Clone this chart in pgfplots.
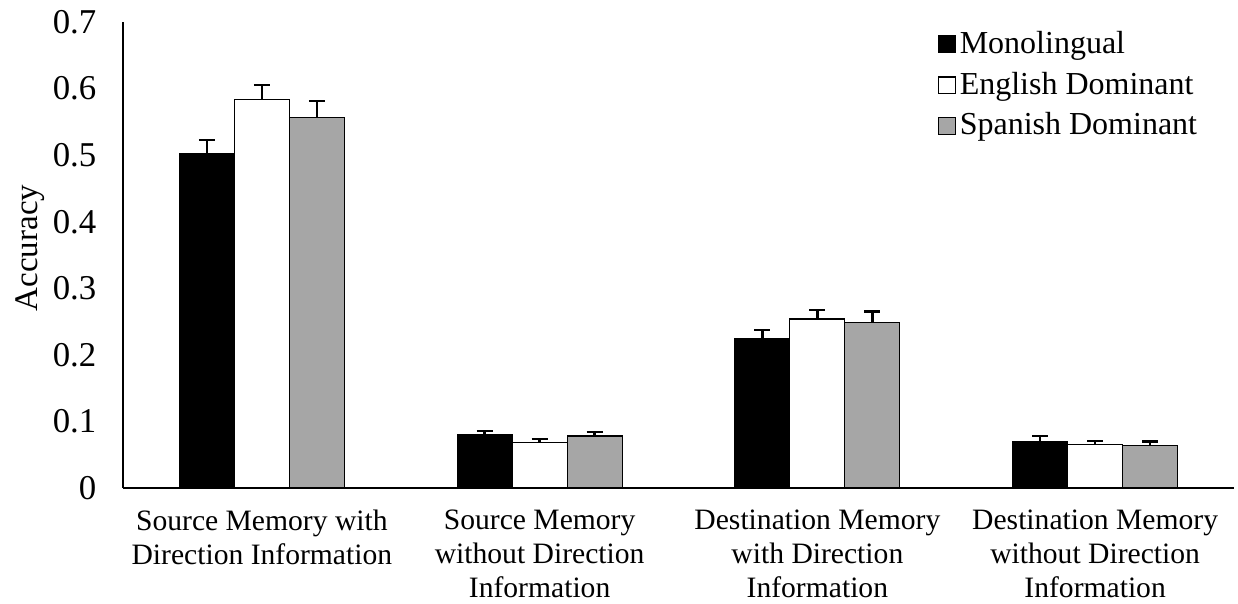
\documentclass[border=0pt]{standalone}
\usepackage{fontspec}
\setmainfont{Liberation Serif}
\usepackage{pgfplots}
\pgfplotsset{compat=1.18}
\definecolor{grayfill}{HTML}{A6A6A6}
\begin{document}
\fontsize{15.5}{17.5}\selectfont
\begin{tikzpicture}
\useasboundingbox (-61.5pt,-58pt) rectangle (557.5pt,244pt);
\begin{axis}[
  at={(0,0)}, anchor=south west,
  scale only axis, width=555.5pt, height=233pt,
  ybar=0pt, bar width=27.5pt,
  xmin=-0.5, xmax=3.5, ymin=0, ymax=0.7,
  ytick={0,0.1,...,0.7},
  yticklabels={0,0.1,0.2,0.3,0.4,0.5,0.6,0.7},
  xtick={0,1,2,3},
  xticklabels={{Source Memory with\\Direction Information},{Source Memory\\without Direction\\Information},{Destination Memory\\with Direction\\Information},{Destination Memory\\without Direction\\Information}},
  xticklabel style={align=center, font=\fontsize{14.8}{17}\selectfont, yshift=-5.5pt},
  yticklabel style={font=\fontsize{17.4}{19}\selectfont, xshift=-8pt},
  /pgf/number format/assume math mode=true,
  major tick length=0pt,
  axis x line*=bottom, axis y line*=left,
  axis line style={line width=0.75pt, -},
  ylabel={Accuracy},
  every axis y label/.style={at={(rel axis cs:0,0.515)}, rotate=90, anchor=center, yshift=46.5pt, font=\fontsize{16.5}{18}\selectfont},
  legend style={draw=none, fill=none, at={(0.733,0.99)}, anchor=north west,
    font=\fontsize{16}{17}\selectfont, row sep=3pt, inner sep=0pt,
    /tikz/every even column/.append style={column sep=2pt}},
  legend cell align=left,
  legend image code/.code={\draw[#1, line width=0.6pt] (0pt,-4.2pt) rectangle (8.4pt,4.2pt);},
  error bars/y dir=plus, error bars/y explicit,
  error bars/error bar style={line width=1.2pt, black},
  error bars/error mark options={rotate=90, mark size=4pt, line width=1.2pt, black},
]
\addplot[fill=black, draw=black, line width=0.6pt] coordinates {
  (0,0.503) +- (0,0.020)
  (1,0.080) +- (0,0.006)
  (2,0.224) +- (0,0.013)
  (3,0.070) +- (0,0.008)
};
\addplot[fill=white, draw=black, line width=0.6pt] coordinates {
  (0,0.583) +- (0,0.022)
  (1,0.068) +- (0,0.006)
  (2,0.254) +- (0,0.013)
  (3,0.065) +- (0,0.006)
};
\addplot[fill=grayfill, draw=black, line width=0.6pt] coordinates {
  (0,0.557) +- (0,0.024)
  (1,0.078) +- (0,0.006)
  (2,0.249) +- (0,0.016)
  (3,0.064) +- (0,0.006)
};
\legend{Monolingual, English Dominant, Spanish Dominant}
\end{axis}
\end{tikzpicture}
\end{document}
